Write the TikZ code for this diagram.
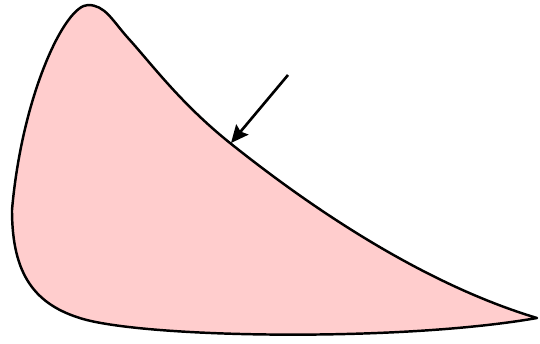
\documentclass[tikz,border=0pt]{standalone}
\usetikzlibrary{arrows.meta}
\definecolor{blobpink}{RGB}{255,205,205}
\tikzset{
  blob/.style={fill=blobpink, draw=black, line width=1.4pt, line join=round},
  pointer/.style={draw=black, line width=1.5pt, -{Stealth[length=10pt,width=9pt,inset=1.5pt]}}
}
\begin{document}
\begin{tikzpicture}[x=0.02cm,y=-0.02cm]
\useasboundingbox (0,0) rectangle (540,344);
\path[blob] (537,318)
  .. controls (437,288) and (330,223) .. (230,143)
  .. controls (180,103) and (150,62) .. (128,38)
  .. controls (112,20) and (105,5) .. (88,5)
  .. controls (65,5) and (22,95) .. (12,210)
  .. controls (12,275) and (35,305) .. (83,319)
  .. controls (150,338) and (400,342) .. cycle;
\coordinate (from) at (288,75);
\coordinate (to) at (231,143);
\draw[pointer] (from) -- (to);
\end{tikzpicture}
\end{document}
